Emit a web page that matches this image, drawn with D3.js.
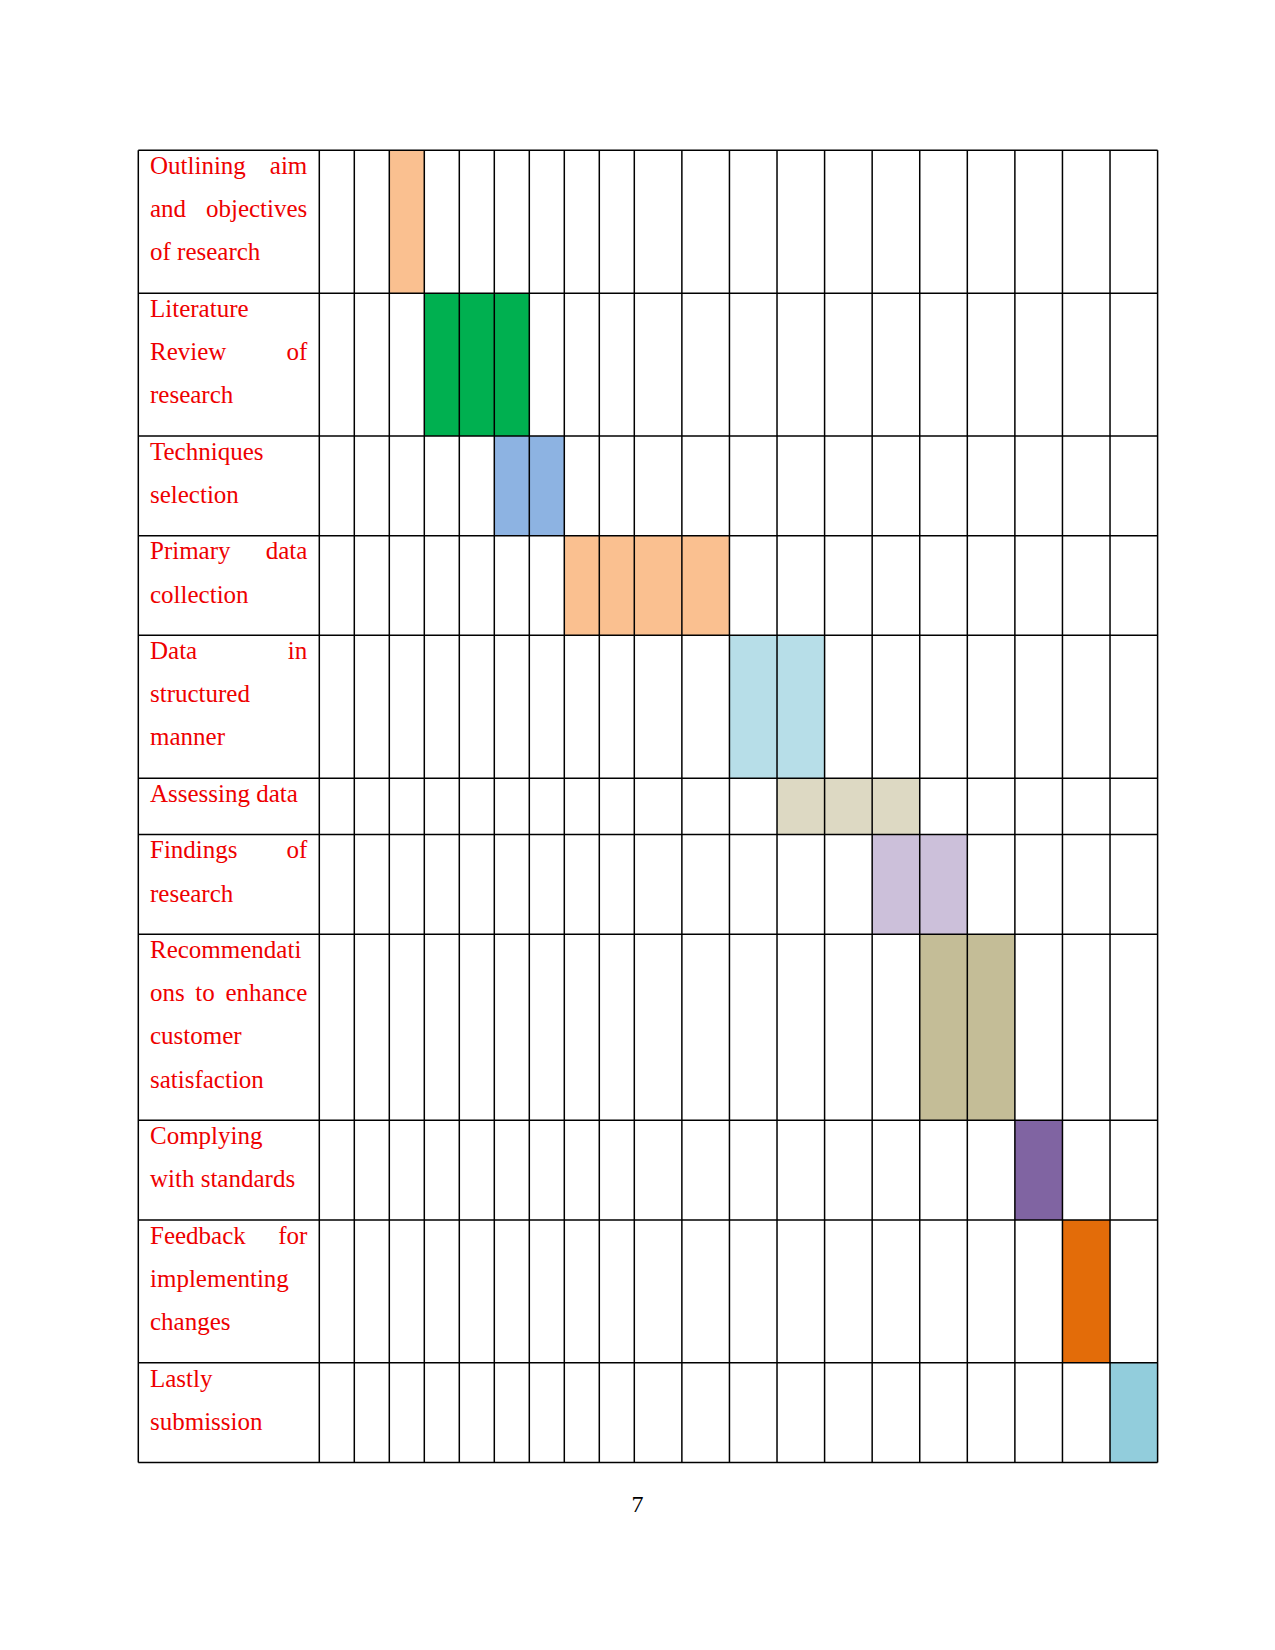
<!DOCTYPE html>
<html>
<head>
<meta charset="utf-8">
<script src="https://cdn.jsdelivr.net/npm/d3@7"></script>
<style>
  html, body { margin: 0; padding: 0; background: #fff; }
  svg { display: block; }
</style>
</head>
<body>
<div id="chart"></div>
<script>
// ---------- data ----------
const taskLines = [
  ["Outlining aim", "and objectives", "of research"],
  ["Literature", "Review of", "research"],
  ["Techniques", "selection"],
  ["Primary data", "collection"],
  ["Data in", "structured", "manner"],
  ["Assessing data"],
  ["Findings of", "research"],
  ["Recommendati", "ons to enhance", "customer", "satisfaction"],
  ["Complying", "with standards"],
  ["Feedback for", "implementing", "changes"],
  ["Lastly", "submission"]
];
const periods = [1, 2, 3, 4, 5, 6, 7, 8, 9, 10, 11, 12, 13, 14, 15, 16, 17, 18, 19, 20];
const startPeriod = [3, 4, 6, 8, 12, 13, 15, 16, 18, 19, 20];
const endPeriod   = [3, 6, 7, 11, 13, 15, 16, 17, 18, 19, 20];
const taskColors = ["#FAC090", "#00B050", "#8DB3E2", "#FAC090", "#B7DEE8", "#DDD9C3",
                    "#CCC0DA", "#C4BD97", "#8064A2", "#E36C09", "#92CDDC"];
const pageNumber = "7";

// ---------- layout ----------
const W = 1275, H = 1650;
const tableLeft = 138.3, labelRight = 319.3, tableRight = 1157.6;
const tableTop = 150.3;
const rowPad = 13.3, lineH = 43.18;
const textPadL = 11.7, textPadR = 12;
const fontFamily = "'Liberation Serif', 'Times New Roman', serif";
const fontSize = 25;
const textColor = "#EE0000";

// period boundary scale: 9 narrow columns then 11 wide columns
const x = d3.scaleLinear().domain([0, 9, 20]).range([labelRight, 634.3, tableRight]);

// row tops
const rowHeights = taskLines.map(l => rowPad + lineH * l.length);
const rowTops = [];
let acc = tableTop;
rowHeights.forEach(h => { rowTops.push(acc); acc += h; });
const tableBottom = acc;

const svg = d3.select("#chart").append("svg")
  .attr("width", W).attr("height", H);

svg.append("rect").attr("width", W).attr("height", H).attr("fill", "#fff");

// colored cells
const cells = [];
taskLines.forEach((_, i) => {
  periods.forEach(p => {
    if (p >= startPeriod[i] && p <= endPeriod[i]) cells.push({ row: i, p, color: taskColors[i] });
  });
});
svg.append("g").selectAll("rect").data(cells).join("rect")
  .attr("x", d => x(d.p - 1))
  .attr("y", d => rowTops[d.row])
  .attr("width", d => x(d.p) - x(d.p - 1))
  .attr("height", d => rowHeights[d.row])
  .attr("fill", d => d.color);

// grid
const grid = svg.append("g").attr("stroke", "#000").attr("stroke-width", 1.5).attr("fill", "none");
const vLines = [tableLeft, labelRight].concat(periods.map(p => x(p)));
grid.selectAll("line.v").data(vLines).join("line").attr("class", "v")
  .attr("x1", d => d).attr("x2", d => d)
  .attr("y1", tableTop).attr("y2", tableBottom);
const hLines = rowTops.concat([tableBottom]);
grid.selectAll("line.h").data(hLines).join("line").attr("class", "h")
  .attr("x1", tableLeft).attr("x2", tableRight)
  .attr("y1", d => d).attr("y2", d => d);

// labels (justified)
const labelG = svg.append("g")
  .attr("font-family", fontFamily).attr("font-size", fontSize).attr("fill", textColor);
const tx0 = tableLeft + textPadL;
const tx1 = labelRight - textPadR;
taskLines.forEach((lines, i) => {
  lines.forEach((line, j) => {
    const baseline = rowTops[i] + 23.8 + j * lineH;
    const words = line.split(" ");
    const isLast = j === lines.length - 1;
    if (words.length < 2 || isLast) {
      labelG.append("text").attr("x", tx0).attr("y", baseline).text(line);
      return;
    }
    const nodes = words.map(w => labelG.append("text").attr("y", baseline).text(w));
    const widths = nodes.map(n => n.node().getComputedTextLength());
    const gap = (tx1 - tx0 - d3.sum(widths)) / (words.length - 1);
    let cx = tx0;
    nodes.forEach((n, k) => { n.attr("x", cx); cx += widths[k] + gap; });
  });
});

// page number
svg.append("text")
  .attr("x", W / 2).attr("y", 1512)
  .attr("text-anchor", "middle")
  .attr("font-family", fontFamily).attr("font-size", 24).attr("fill", "#000")
  .text(pageNumber);
</script>
</body>
</html>
